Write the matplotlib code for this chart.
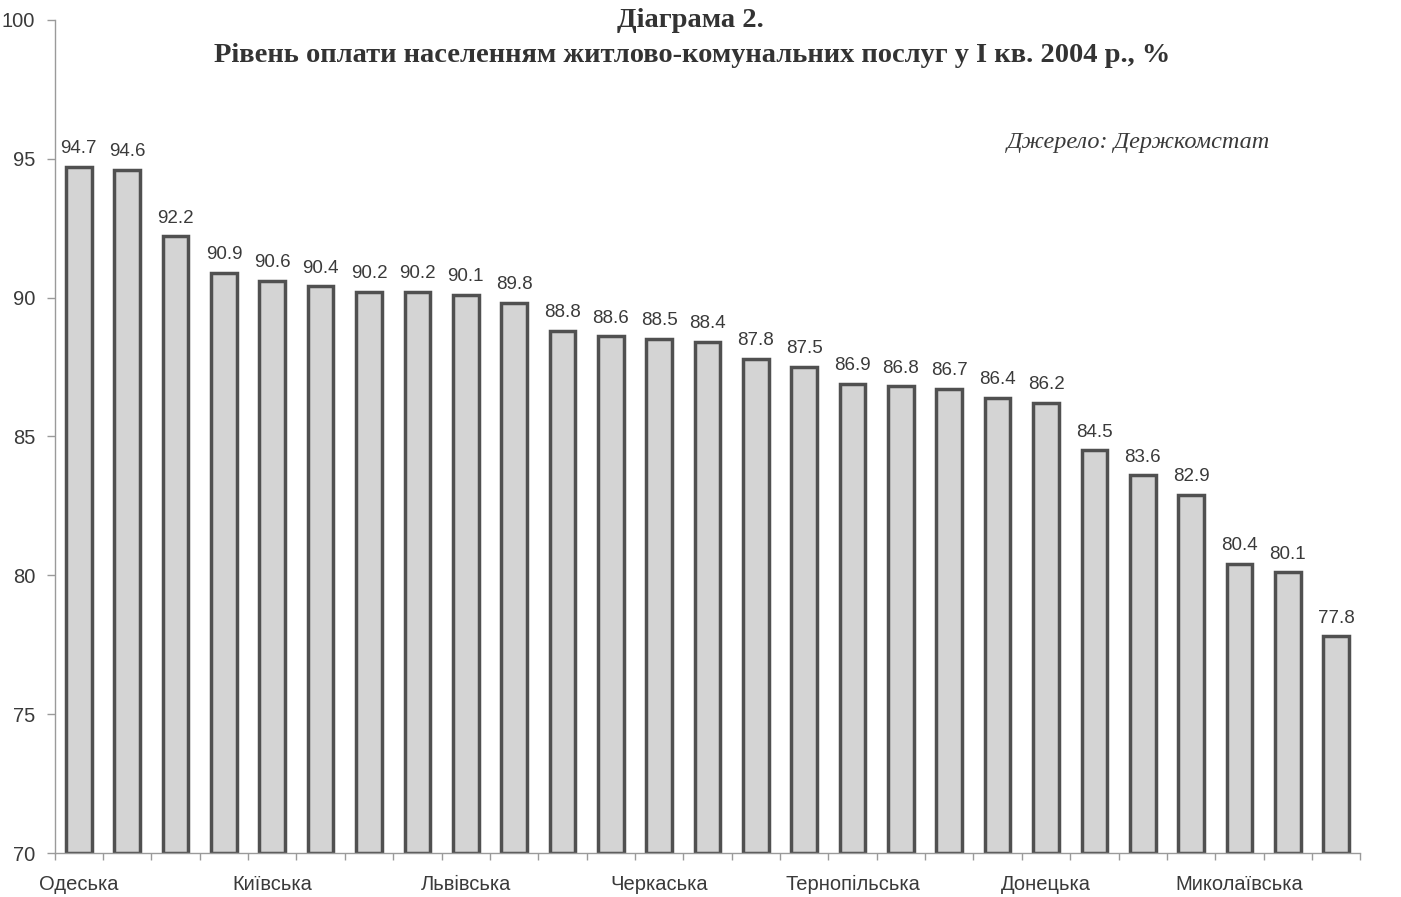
import numpy as np
import matplotlib.pyplot as plt

# Payment level by region, Q1 2004, % (sorted descending)
values = [94.7, 94.6, 92.2, 90.9, 90.6, 90.4, 90.2, 90.2, 90.1, 89.8,
          88.8, 88.6, 88.5, 88.4, 87.8, 87.5, 86.9, 86.8, 86.7, 86.4,
          86.2, 84.5, 83.6, 82.9, 80.4, 80.1, 77.8]
# only every fourth region name is printed on the axis
tick_names = ["Одеська", "Київська", "Львівська", "Черкаська",
              "Тернопільська", "Донецька", "Миколаївська"]
tick_step = 4

title_1 = "Діаграма 2."
title_2 = "Рівень оплати населенням житлово-комунальних послуг у І кв. 2004 р., %"
source = "Джерело: Держкомстат"

x = np.arange(len(values))
base = 70

fig = plt.figure(figsize=(14.01, 8.97), dpi=100)
ax = fig.add_axes([0.039, 0.049, 0.932, 0.929])

ax.bar(x, np.array(values) - base, bottom=base, width=0.53,
       color="#d4d4d4", edgecolor="#505050", linewidth=2.5)

for xi, v in zip(x, values):
    ax.text(xi, v + 0.35, f"{v:.1f}", ha="center", va="bottom",
            fontsize=13.5, color="#3a3a3a", family="Liberation Sans")

ax.set_xlim(-0.5, len(values) - 0.5)
ax.set_ylim(70, 100)
ax.set_yticks(range(70, 101, 5))
ax.tick_params(axis="y", labelsize=14.5, labelcolor="#3a3a3a", color="#9a9a9a",
               length=6, width=1, pad=8)
for lbl in ax.get_yticklabels():
    lbl.set_family("Liberation Sans")

# category boundaries get ticks, names go under every fourth bar
ax.set_xticks(np.arange(-0.5, len(values), 1))
ax.set_xticklabels([])
ax.tick_params(axis="x", color="#9a9a9a", length=5, width=1)
for i, name in enumerate(tick_names):
    ax.text(i * tick_step, 69.2, name, ha="center", va="top",
            fontsize=14.5, color="#3a3a3a", family="Liberation Sans")

for side in ("top", "right"):
    ax.spines[side].set_visible(False)
for side in ("left", "bottom"):
    ax.spines[side].set_color("#9a9a9a")
    ax.spines[side].set_linewidth(1)

fig.text(0.493, 0.977, title_1, ha="center", va="center", fontsize=20.5,
         fontweight="bold", color="#333333", family="Liberation Serif")
fig.text(0.494, 0.938, title_2, ha="center", va="center", fontsize=20.5,
         fontweight="bold", color="#333333", family="Liberation Serif")
fig.text(0.813, 0.841, source, ha="center", va="center", fontsize=17.5,
         style="italic", color="#3a3a3a", family="Liberation Serif")

fig.savefig("out.png", dpi=100)
